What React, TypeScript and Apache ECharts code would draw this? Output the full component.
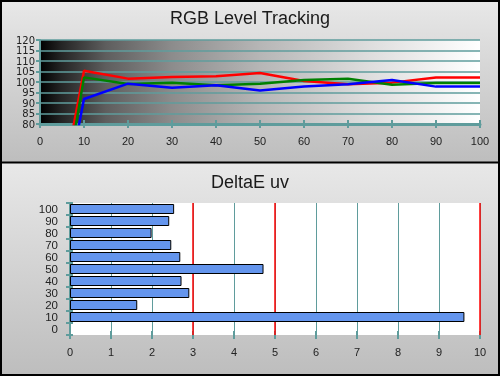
import React, { useEffect, useRef } from "react";
import * as echarts from "echarts";

const levels = [0, 10, 20, 30, 40, 50, 60, 70, 80, 90, 100];
const redLevel = [-5, 105.4, 101.6, 102.4, 102.7, 104.3, 100.5, 98.9, 99.7, 102.1, 102.1];
const greenLevel = [-20, 102.2, 99.0, 99.7, 98.4, 99.2, 101.0, 101.6, 98.7, 99.5, 99.5];
const blueLevel = [-16, 91.9, 99.2, 97.3, 98.4, 96.0, 97.9, 98.9, 101.0, 97.8, 97.8];

const deltaCategories = ["0", "10", "20", "30", "40", "50", "60", "70", "80", "90", "100"];
const deltaValues = [null, 9.62, 1.64, 2.91, 2.72, 4.72, 2.69, 2.47, 1.99, 2.42, 2.54];
const deltaLimits = [3, 5, 10];

const topTitle = "RGB Level Tracking";
const bottomTitle = "DeltaE uv";

const TEAL = "#5f9c9c";
const RED = "#ff0000";
const FONT = "Liberation Sans, Arial, sans-serif";

export default function App() {
  const ref = useRef<HTMLDivElement>(null);
  useEffect(() => {
    if (!ref.current) return;
    const chart = echarts.init(ref.current, undefined, { renderer: "svg" });
    const panelGrad = () =>
      new echarts.graphic.LinearGradient(0, 0, 0, 1, [
        { offset: 0, color: "#e8e8e8" },
        { offset: 1, color: "#bdbdbd" },
      ]);
    const mkLine = (name: string, vals: number[], color: string) => ({
      name,
      type: "line",
      xAxisIndex: 0,
      yAxisIndex: 0,
      data: levels.map((l, i) => [l, vals[i]]),
      symbol: "none",
      clip: true,
      lineStyle: { color, width: 2.5 },
      itemStyle: { color },
      z: 5,
    });
    const topYLabel = {
      fontFamily: "DejaVu Sans, sans-serif", fontSize: 10, lineHeight: 10, color: "#222", margin: 5,
      showMinLabel: true, showMaxLabel: true, hideOverlap: false,
    };
    chart.setOption({
      animation: false,
      graphic: [
        { type: "rect", z: -100, shape: { x: 0, y: 0, width: 500, height: 163 }, style: { fill: panelGrad() } },
        { type: "rect", z: -100, shape: { x: 0, y: 163, width: 500, height: 213 }, style: { fill: panelGrad() } },
        { type: "rect", z: 100, shape: { x: 1, y: 1, width: 498, height: 374 }, style: { fill: "none", stroke: "#000", lineWidth: 2 } },
        { type: "line", z: 100, shape: { x1: 0, y1: 162.5, x2: 500, y2: 162.5 }, style: { stroke: "#000", lineWidth: 2 } },
      ],
      title: [
        { text: topTitle, left: "center", top: 4, textStyle: { fontFamily: FONT, fontSize: 18, fontWeight: "normal", color: "#1a1a1a" } },
        { text: bottomTitle, left: "center", top: 168, textStyle: { fontFamily: FONT, fontSize: 18, fontWeight: "normal", color: "#1a1a1a" } },
      ],
      grid: [
        {
          left: 40, right: 20, top: 40, height: 84, show: true, borderWidth: 0,
          backgroundColor: new echarts.graphic.LinearGradient(0, 0, 1, 0, [
            { offset: 0, color: "#000000" },
            { offset: 0.05, color: "#252525" },
            { offset: 0.15, color: "#5e5e5e" },
            { offset: 0.3, color: "#8c8c8c" },
            { offset: 0.5, color: "#b6b6b6" },
            { offset: 0.75, color: "#dedede" },
            { offset: 1, color: "#ffffff" },
          ]),
        },
        { left: 70, right: 20, top: 203, height: 132, show: true, borderWidth: 0, backgroundColor: "#ffffff" },
      ],
      xAxis: [
        {
          gridIndex: 0, type: "value", min: 0, max: 100, interval: 10,
          axisLine: { lineStyle: { color: TEAL, width: 3 } },
          axisTick: { show: true, length: 4, lineStyle: { color: TEAL, width: 2 } },
          axisLabel: { fontFamily: FONT, fontSize: 11, color: "#222", margin: 11, showMinLabel: true, showMaxLabel: true },
          splitLine: { show: false },
        },
        {
          gridIndex: 0, type: "value", min: 0, max: 100, interval: 10, position: "bottom",
          axisLine: { show: false },
          axisTick: { show: true, inside: true, length: 4, lineStyle: { color: TEAL, width: 2 } },
          axisLabel: { show: false },
          splitLine: { show: false },
        },
        {
          gridIndex: 1, type: "value", min: 0, max: 10, interval: 1,
          axisLine: { lineStyle: { color: TEAL, width: 2 } },
          axisTick: { show: true, length: 4, lineStyle: { color: TEAL, width: 2 } },
          axisLabel: { fontFamily: FONT, fontSize: 11, color: "#222", margin: 11, showMinLabel: true, showMaxLabel: true },
          splitLine: { show: true, lineStyle: { color: TEAL, width: 1 } },
        },
        {
          gridIndex: 1, type: "value", min: 0, max: 10, interval: 1, position: "bottom",
          axisLine: { show: false },
          axisTick: { show: true, inside: true, length: 4, lineStyle: { color: TEAL, width: 2 } },
          axisLabel: { show: false },
          splitLine: { show: false },
        },
      ],
      yAxis: [
        {
          gridIndex: 0, type: "value", min: 80, max: 120, interval: 5,
          axisLine: { show: true, lineStyle: { color: TEAL, width: 2 } },
          axisTick: { show: true, length: 4, lineStyle: { color: TEAL, width: 2 } },
          axisLabel: topYLabel,
          splitLine: { show: true, lineStyle: { color: TEAL, width: 1.5 } },
        },
        {
          gridIndex: 1, type: "category", data: deltaCategories,
          axisLine: { show: true, lineStyle: { color: TEAL, width: 2 } },
          axisTick: { show: true, interval: 0, length: 4, lineStyle: { color: TEAL, width: 2 } },
          axisLabel: { interval: 0, fontFamily: FONT, fontSize: 11.5, lineHeight: 11, color: "#222", margin: 12 },
          splitLine: { show: false },
        },
        {
          gridIndex: 1, type: "category", data: deltaCategories, position: "left",
          axisLine: { show: false },
          axisTick: { show: true, interval: 0, inside: true, length: 3, lineStyle: { color: TEAL, width: 2 } },
          axisLabel: { show: false },
          splitLine: { show: false },
        },
      ],
      series: [
        mkLine("Red", redLevel, "#ff0000"),
        mkLine("Green", greenLevel, "#008000"),
        mkLine("Blue", blueLevel, "#0000ff"),
        {
          name: "Limits",
          type: "line",
          xAxisIndex: 2,
          yAxisIndex: 1,
          data: [],
          z: 1,
          markLine: {
            z: 1,
            silent: true,
            symbol: "none",
            label: { show: false },
            lineStyle: { color: RED, width: 1.5, type: "solid" },
            data: deltaLimits.map((v) => ({ xAxis: v })),
          },
        },
        {
          name: "DeltaE uv",
          type: "bar",
          xAxisIndex: 2,
          yAxisIndex: 1,
          data: deltaValues.map((v) => (v == null ? "-" : v)),
          barWidth: 10,
          itemStyle: { color: "#6495ed", borderColor: "#000", borderWidth: 1 },
          z: 5,
        },
      ],
    });
    return () => chart.dispose();
  }, []);
  return (
    <div
      ref={ref}
      style={{ position: "fixed", left: 0, top: 0, width: 500, height: 376 }}
    />
  );
}
